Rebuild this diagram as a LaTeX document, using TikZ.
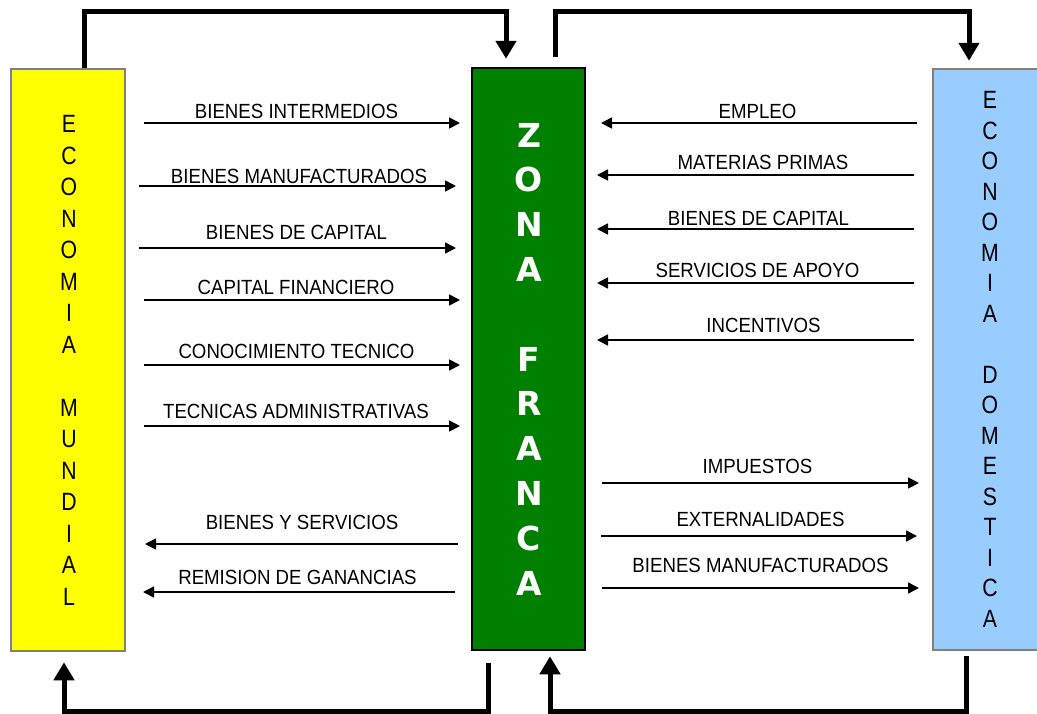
\documentclass[tikz,border=0pt]{standalone}
\usepackage{fontspec}
\usetikzlibrary{arrows.meta}
\setmainfont{Liberation Sans}
\newfontfamily\labfont[FakeStretch=0.91]{Liberation Sans}
\newfontfamily\vfont[FakeStretch=0.85]{Liberation Sans}
\newfontfamily\zfont{DejaVu Sans}
\definecolor{yel}{HTML}{FFFF00}
\definecolor{zgreen}{HTML}{008000}
\definecolor{dblue}{HTML}{99CCFF}
\definecolor{bgray}{HTML}{808080}
\tikzset{
 sidebox/.style={draw=bgray, line width=2.5pt, minimum width=114pt, minimum height=582pt, inner sep=0pt},
 zonebox/.style={draw=black, fill=zgreen, line width=2.5pt, minimum width=113pt, minimum height=582pt, inner sep=0pt},
 lab/.style={font=\labfont\fontsize{20.5}{24}\selectfont, anchor=base, inner sep=0pt},
 flow/.style={line width=1.7pt, -{Triangle[length=11pt,width=11pt]}},
 big/.style={line width=5pt, -{Triangle[length=18pt,width=20pt]}},
 vlet/.style={font=\vfont\fontsize{25}{28}\selectfont, anchor=base, inner sep=0pt},
 zlet/.style={font=\zfont\bfseries\fontsize{33}{38}\selectfont, text=white, anchor=base, inner sep=0pt},
}
\begin{document}
\begin{tikzpicture}[x=1pt,y=-1pt]
\useasboundingbox (0,0) rectangle (1037,713);
\clip (0,0) rectangle (1037,713);
% boxes
\node[sidebox, fill=yel] (wm) at (68,360) {};
\node[zonebox] (zf) at (528.5,359) {};
\node[sidebox, fill=dblue, minimum width=112pt, minimum height=581pt] (de) at (989,359.5) {};
% vertical texts
\foreach \l [count=\i] in {E,C,O,N,O,M,I,A,{},M,U,N,D,I,A,L}
  \node[vlet] (wl\i) at (69,{132.5+31.5*(\i-1)}) {\l};
\foreach \l [count=\i] in {E,C,O,N,O,M,I,A,{},D,O,M,E,S,T,I,C,A}
  \node[vlet] (dl\i) at (990,{108.5+30.5*(\i-1)}) {\l};
\foreach \l [count=\i] in {Z,O,N,A,{},F,R,A,N,C,A}
  \node[zlet] (zl\i) at (529,{147+44.8*(\i-1)}) {\l};
% flows with labels
\foreach \n/\tx/\ty/\sx/\ex/\ay/\t in {
 la/296.5/118/144/460/123/BIENES INTERMEDIOS,
 lb/299/183/139/456/186/BIENES MANUFACTURADOS,
 lc/296.5/239/139/456/248/BIENES DE CAPITAL,
 ld/296/294/144/460/300/CAPITAL FINANCIERO,
 le/296.5/358/144/460/365/CONOCIMIENTO TECNICO,
 lf/296/418/144/460/426/TECNICAS ADMINISTRATIVAS,
 lg/302/529/458/145/544/BIENES Y SERVICIOS,
 lh/297.5/584/455/143/592/REMISION DE GANANCIAS,
 ra/757.5/118/917/601/123/EMPLEO,
 rb/763/169/914/597/175/MATERIAS PRIMAS,
 rc/758.5/225/914/597/229/BIENES DE CAPITAL,
 rd/757.5/277/914/597/283/SERVICIOS DE APOYO,
 re/763.5/332/914/597/340/INCENTIVOS,
 rf/757.5/473/602/919/483/IMPUESTOS,
 rg/760.5/526/601/917/536/EXTERNALIDADES,
 rh/760.5/572/602/919/588/BIENES MANUFACTURADOS}
{
 \node[lab] (\n) at (\tx,\ty) {\t};
 \coordinate (\n-s) at (\sx,\ay);
 \coordinate (\n-e) at (\ex,\ay);
 \draw[flow] (\n-s) -- (\n-e);
}
% big loops
\coordinate (zfTop) at ([xshift=26.5pt,yshift=10pt]zf.north);
\coordinate (zfBot) at ([xshift=-40.5pt,yshift=-12pt]zf.south);
\coordinate (deBot) at ([xshift=-23pt,yshift=-5pt]de.south);
\draw[big] ([xshift=16pt]wm.north) -- ++(0,-56) -| ([xshift=-22.5pt,yshift=8pt]zf.north);
\draw[big] (zfTop) -- ++(0,-45) -| ([xshift=-20pt,yshift=7pt]de.north);
\draw[big] (zfBot) -- ++(0,48) -| ([xshift=-4pt,yshift=-10pt]wm.south);
\draw[big] (deBot) -- ++(0,55) -| ([xshift=21.5pt,yshift=-5pt]zf.south);
\end{tikzpicture}
\end{document}
